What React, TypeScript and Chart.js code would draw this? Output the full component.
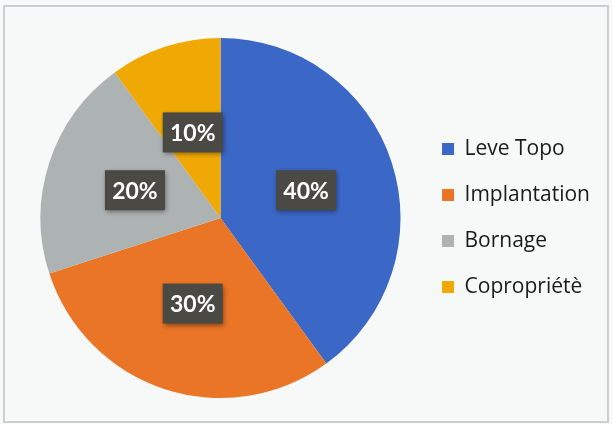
import React, { useEffect, useRef } from "react";
import { Chart, registerables } from "chart.js";

Chart.register(...registerables);

const categories = ["Leve Topo", "Implantation", "Bornage", "Copropriétè"];
const values = [40, 30, 20, 10];
const valueLabels = ["40%", "30%", "20%", "10%"];
const colors = ["#3b67c6", "#ea7526", "#adb2b3", "#f0a904"];

const bgPlugin = {
  id: "bgPlugin",
  beforeDraw(chart: any) {
    const { ctx, width, height } = chart;
    ctx.save();
    ctx.fillStyle = "#f7f9f9";
    ctx.fillRect(0, 0, width, height);
    ctx.strokeStyle = "#c9d0d3";
    ctx.lineWidth = 2;
    ctx.strokeRect(4, 6, width - 8, height - 8);
    ctx.restore();
  },
};

const labelPlugin = {
  id: "labelPlugin",
  afterDatasetsDraw(chart: any) {
    const { ctx } = chart;
    const meta = chart.getDatasetMeta(0);
    ctx.save();
    meta.data.forEach((arc: any, i: number) => {
      const p = arc.tooltipPosition();
      const w = 60;
      const h = 40;
      ctx.shadowColor = "rgba(0,0,0,0.45)";
      ctx.shadowBlur = 5;
      ctx.shadowOffsetX = 1;
      ctx.shadowOffsetY = 2;
      ctx.fillStyle = "#4a4944";
      ctx.fillRect(p.x - w / 2, p.y - h / 2, w, h);
      ctx.shadowColor = "transparent";
      ctx.fillStyle = "#ffffff";
      ctx.font = "bold 23px Lato";
      ctx.textAlign = "center";
      ctx.textBaseline = "middle";
      ctx.fillText(valueLabels[i], p.x, p.y + 1);
    });
    ctx.restore();
  },
};

export default function App() {
  const ref = useRef<HTMLCanvasElement>(null);
  useEffect(() => {
    const chart = new Chart(ref.current!, {
      type: "pie",
      data: {
        labels: categories,
        datasets: [
          {
            data: values,
            backgroundColor: colors,
            borderColor: "#ffffff",
            borderWidth: 0,
          },
        ],
      },
      options: {
        responsive: false,
        animation: false,
        layout: { padding: { top: 38, bottom: 26, left: 24, right: 12 } },
        plugins: {
          tooltip: { enabled: false },
          legend: {
            position: "right",
            labels: {
              boxWidth: 12,
              boxHeight: 12,
              padding: 25,
              color: "#1a1a1a",
              font: { family: "Open Sans", size: 21 },
            },
          },
        },
      },
      plugins: [bgPlugin, labelPlugin],
    });
    return () => chart.destroy();
  }, []);
  return (
    <div style={{ position: "fixed", left: 0, top: 0, width: 612, height: 424 }}>
      <canvas ref={ref} width={612} height={424} />
    </div>
  );
}
